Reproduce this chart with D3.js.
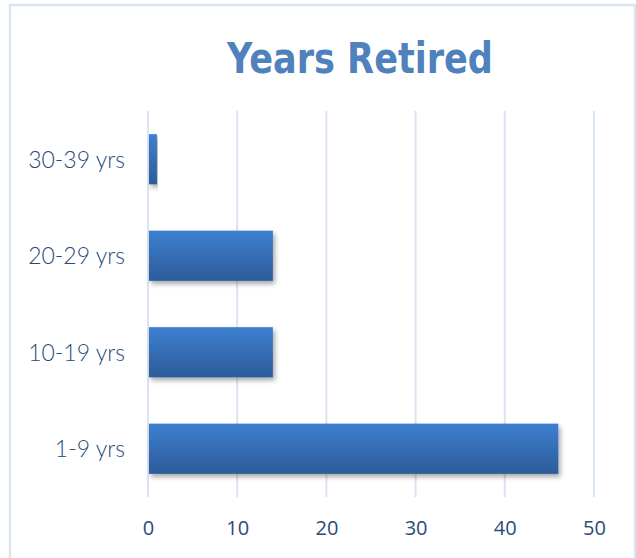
<!DOCTYPE html>
<html>
<head>
<meta charset="utf-8">
<script src="https://cdn.jsdelivr.net/npm/d3@7"></script>
<style>
  body { margin: 0; background: #fff; }
  svg { display: block; }
</style>
</head>
<body>
<div id="chart"></div>
<script>
// data
var categories = ["30-39 yrs", "20-29 yrs", "10-19 yrs", "1-9 yrs"];
var values = [1, 14, 14, 46];
var xTicks = [0, 10, 20, 30, 40, 50];

var W = 636, H = 558;
var margin = { top: 111, right: 42, bottom: 61, left: 148 };
var w = W - margin.left - margin.right,
    h = H - margin.top - margin.bottom;

var svg = d3.select("#chart").append("svg")
  .attr("width", W)
  .attr("height", H);

var defs = svg.append("defs");
var grad = defs.append("linearGradient")
  .attr("id", "barGrad")
  .attr("x1", 0).attr("y1", 0).attr("x2", 0).attr("y2", 1);
grad.append("stop").attr("offset", "0%").attr("stop-color", "#3d7fd0");
grad.append("stop").attr("offset", "100%").attr("stop-color", "#2c5c9a");

var shadow = defs.append("filter").attr("id", "shadow")
  .attr("x", "-5%").attr("y", "-10%").attr("width", "115%").attr("height", "140%");
shadow.append("feDropShadow")
  .attr("dx", 2).attr("dy", 3).attr("stdDeviation", 2.5)
  .attr("flood-color", "#000").attr("flood-opacity", 0.35);

// outer frame (light blue)
svg.append("path")
  .attr("d", "M10," + H + " L10,5 L635,5 L635," + H)
  .attr("fill", "none")
  .attr("stroke", "#dae5f3")
  .attr("stroke-width", 2.5);

// title - squeezed to match the narrower original face
svg.append("text")
  .attr("x", 227)
  .attr("y", 73)
  .attr("font-family", "'DejaVu Sans', sans-serif")
  .attr("font-weight", "bold")
  .attr("font-size", "42px")
  .attr("textLength", 266)
  .attr("lengthAdjust", "spacingAndGlyphs")
  .attr("fill", "#4f81bd")
  .text("Years Retired");

var g = svg.append("g").attr("transform", "translate(" + margin.left + "," + margin.top + ")");

var x = d3.scaleLinear().domain([0, 50]).range([0, 446]);
var y = d3.scaleBand().domain(categories).range([0, h])
  .paddingInner(0.48).paddingOuter(0.24);

// gridlines
g.selectAll(".grid")
  .data(xTicks)
  .enter().append("line")
  .attr("x1", function(d) { return x(d); })
  .attr("x2", function(d) { return x(d); })
  .attr("y1", 0)
  .attr("y2", h)
  .attr("stroke", "#d9e4f2")
  .attr("stroke-width", 2);

// bars
g.selectAll("rect.bar")
  .data(values)
  .enter().append("rect")
  .attr("class", "bar")
  .attr("x", 1)
  .attr("y", function(d, i) { return y(categories[i]); })
  .attr("width", function(d) { return x(d) - 1; })
  .attr("height", y.bandwidth())
  .attr("fill", "url(#barGrad)")
  .attr("filter", "url(#shadow)");

// x axis labels
var xAxis = d3.axisBottom(x).tickValues(xTicks).tickSize(0).tickPadding(24);
var xa = g.append("g").attr("transform", "translate(0," + h + ")").call(xAxis);
xa.select(".domain").remove();
xa.selectAll("text")
  .attr("font-family", "'Open Sans', sans-serif")
  .attr("font-size", "20px")
  .attr("fill", "#2b4a78");

// y axis labels
var yAxis = d3.axisLeft(y).tickSize(0).tickPadding(23);
var ya = g.append("g").call(yAxis);
ya.select(".domain").remove();
ya.selectAll("text")
  .attr("font-family", "Lato, sans-serif")
  .attr("font-weight", 300)
  .attr("font-size", "23px")
  .attr("dy", "0.36em")
  .attr("fill", "#2b4a78");
</script>
</body>
</html>
